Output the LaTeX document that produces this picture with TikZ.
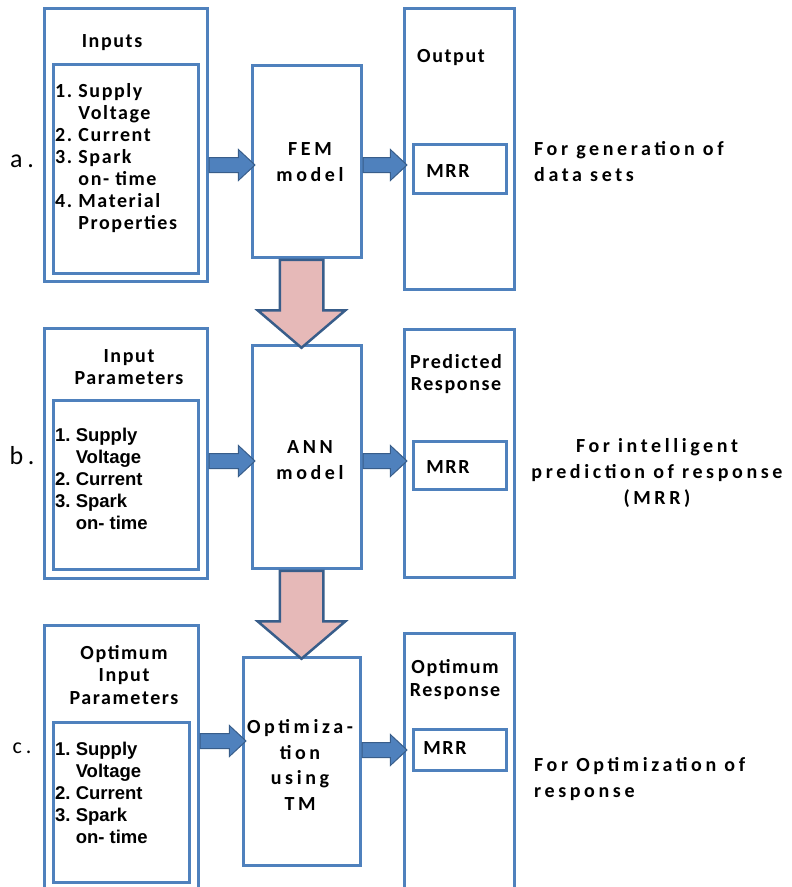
\documentclass[tikz,border=0pt]{standalone}
\usepackage{fontspec}
\setmainfont{Carlito}
\newfontfamily\tightfont[LetterSpace=8]{Carlito}
\newfontfamily\widefont[LetterSpace=18]{Carlito}
\newfontfamily\listfont{Liberation Sans}
\usetikzlibrary{shapes.arrows,calc}

\definecolor{boxblue}{RGB}{79,129,189}
\definecolor{darkblue}{RGB}{56,93,138}
\definecolor{pinkfill}{RGB}{230,185,184}

\tikzset{
  box/.style={draw=boxblue, line width=3pt, fill=white, inner sep=0pt},
  title/.style={font=\tightfont\bfseries\fontsize{20}{22.5}\selectfont, align=center, inner sep=0pt},
  items/.style={font=\tightfont\bfseries\fontsize{20}{22}\selectfont, align=left, inner sep=0pt, anchor=west},
  itemsb/.style={font=\listfont\bfseries\fontsize{18.5}{22}\selectfont, align=left, inner sep=0pt, anchor=west},
  model/.style={font=\widefont\bfseries\fontsize{20}{25.5}\selectfont, align=center, inner sep=0pt},
  note/.style={font=\widefont\bfseries\fontsize{20}{26}\selectfont, align=left, inner sep=0pt},
  tag/.style={font=\widefont\fontsize{26}{30}\selectfont, inner sep=0pt},
  barrow/.style={single arrow, draw=darkblue, fill=boxblue, line width=1pt, inner sep=0pt,
    text height=14pt, text depth=0pt, single arrow head extend=8pt,
    single arrow tip angle=86, single arrow head indent=0pt, anchor=tail},
  parrow/.style={single arrow, draw=darkblue, fill=pinkfill, line width=2.5pt, inner sep=0pt,
    text height=41pt, text depth=0pt, single arrow head extend=22pt,
    single arrow tip angle=99, single arrow head indent=0pt, minimum height=88pt,
    rotate=-90, anchor=tail},
}

\begin{document}
\begin{tikzpicture}[x=1pt, y=-1pt]

\useasboundingbox (0,0) rectangle (792,887);
\clip (0,0) rectangle (792,887);

% a.
\node[box, minimum width=163pt, minimum height=273pt] (inA) at (125.5,144.5) {};
\node[box, minimum width=145pt, minimum height=209pt] (lstA) at (125.5,168.5) {};
\node[box, minimum width=109pt, minimum height=192pt] (femA) at (306.5,161) {};
\node[box, minimum width=110pt, minimum height=281pt] (outA) at (459,148.5) {};
\node[box, minimum width=93pt, minimum height=49pt] (mrrA) at (459.5,168.5) {};

% b.
\node[box, minimum width=163pt, minimum height=250pt] (inB) at (125.5,453) {};
\node[box, minimum width=145pt, minimum height=169pt] (lstB) at (125.5,484.5) {};
\node[box, minimum width=109pt, minimum height=223pt] (annB) at (306.5,456.5) {};
\node[box, minimum width=110pt, minimum height=248pt] (outB) at (459,453) {};
\node[box, minimum width=93pt, minimum height=48pt] (mrrB) at (459.5,465) {};

% c.
\node[box, minimum width=154pt, minimum height=275pt] (inC) at (121,762.5) {};
\node[box, minimum width=136pt, minimum height=160pt] (lstC) at (121,802) {};
\node[box, minimum width=117pt, minimum height=208pt] (optC) at (301.5,761) {};
\node[box, minimum width=110pt, minimum height=267pt] (outC) at (459,766.5) {};
\node[box, minimum width=93pt, minimum height=41pt] (mrrC) at (459.5,749.5) {};

\node[barrow, minimum height=46pt] (arA1) at ($(inA.east |- femA.west)+(0,4)$) {};
\node[barrow, minimum height=44pt] (arA2) at ($(femA.east)+(0,4)$) {};
\node[barrow, minimum height=46pt] (arB1) at ($(inB.east |- annB.west)+(0,4.5)$) {};
\node[barrow, minimum height=44pt] (arB2) at ($(annB.east)+(0,4.5)$) {};
\node[barrow, minimum height=46pt] (arC1) at ($(inC.east |- optC.west)+(0,-20)$) {};
\node[barrow, minimum height=45pt] (arC2) at ($(optC.east)+(0,-11)$) {};

\node[parrow] (dnA) at ($(femA.south)+(-5,0)$) {};
\node[parrow] (dnB) at (annB.south -| optC.north) {};

\node[tag] (la) at (22,161.5) {a.};
\node[title] (tInA) at (112,43) {Inputs};
\node[items] (iA) at (55,158) {1.~Supply\\\hphantom{1.~}Voltage\\2.~Current\\3.~Spark\\\hphantom{3.~}on- time\\4.~Material\\\hphantom{4.~}Properties};
\node[model] (tFem) at (310,162) {FEM\\model};
\node[title] (tOutA) at (451,58) {Output};
\node[title] (tMrrA) at (448,171) {MRR};
\node[note, anchor=west] (nA) at (534,161.5) {For generation of\\data sets};

\node[tag] (lb) at (22,455.5) {b.};
\node[title] (tInB) at (129,367) {Input\\Parameters};
\node[itemsb] (iB) at (55,478.5) {1.~Supply\\\hphantom{1.~}Voltage\\2.~Current\\3.~Spark\\\hphantom{3.~}on- time};
\node[model] (tAnn) at (310,460) {ANN\\model};
\node[title] (tOutB) at (456,374) {Predicted\\Response};
\node[title] (tMrrB) at (448,467) {MRR};
\node[note, align=center] (nB) at (657,473) {For intelligent\\prediction of response\\(MRR)};

\node[tag, font=\widefont\fontsize{22}{26}\selectfont] (lc) at (22,748) {c.};
\node[title] (tInC) at (124,675) {Optimum\\Input\\Parameters};
\node[itemsb] (iC) at (55,792.5) {1.~Supply\\\hphantom{1.~}Voltage\\2.~Current\\3.~Spark\\\hphantom{3.~}on- time};
\node[model] (tOpt) at (300,765) {Optimiza-\\tion\\using\\TM};
\node[title] (tOutC) at (455,679.5) {Optimum\\Response};
\node[title] (tMrrC) at (445,748) {MRR};
\node[note, anchor=west] (nC) at (534,779.5) {For Optimization of\\response};

\end{tikzpicture}
\end{document}
